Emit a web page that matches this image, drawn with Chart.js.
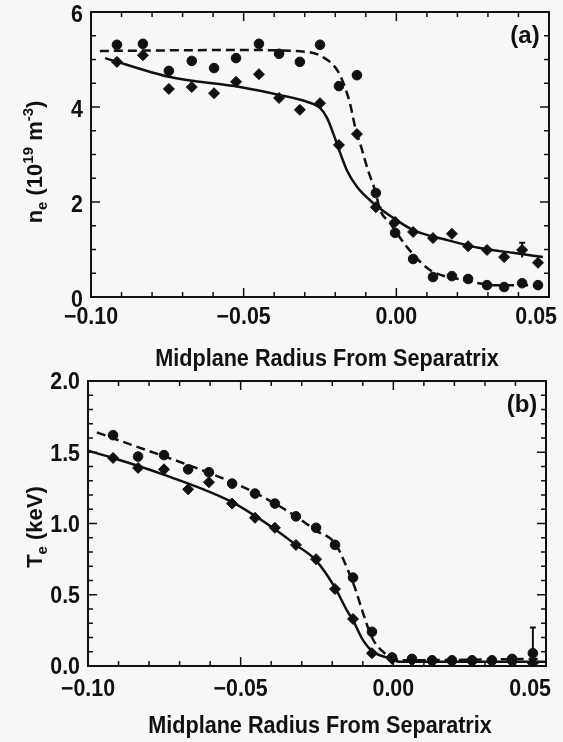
<!DOCTYPE html>
<html>
<head>
<meta charset="utf-8">
<script src="https://cdn.jsdelivr.net/npm/chart.js@4.4.1/dist/chart.umd.min.js"></script>
<style>
	html, body { margin: 0; padding: 0; background: #f7f7f7; }
	#wrap { position: relative; width: 563px; height: 742px; }
	#wrap canvas { position: absolute; left: 0; top: 0; }
</style>
</head>
<body>
<div id="wrap">
	<canvas id="chart_ne" width="563" height="742"></canvas>
	<canvas id="chart_te" width="563" height="742"></canvas>
</div>
<script>
// (a) density, measured points (dashed = circles, solid = diamonds)
var neX      = [-0.0915, -0.083, -0.0745, -0.067, -0.0597, -0.0525, -0.045, -0.0384, -0.0316, -0.025, -0.0188, -0.0129, -0.0067, -0.0004, 0.0055, 0.012, 0.0182, 0.0235, 0.0297, 0.0353, 0.0412, 0.0464];
var neDashed = [5.31, 5.33, 4.76, 4.97, 4.82, 5.03, 5.33, 5.12, 4.95, 5.31, 4.44, 4.67, 2.19, 1.35, 0.80, 0.42, 0.44, 0.38, 0.25, 0.21, 0.29, 0.25];
var neSolid  = [4.95, 5.09, 4.38, 4.42, 4.29, 4.53, 4.69, 4.19, 3.94, 4.08, 3.20, 3.43, 1.89, 1.58, 1.37, 1.24, 1.33, 1.07, 0.99, 0.84, 0.99, 0.72];

// (a) fitted curves
var neFitSolidX  = [-0.0954, -0.0741, -0.0512, -0.0381, -0.0293, -0.025, -0.0227, -0.0207, -0.0185, -0.0162, -0.0129, -0.0076, -0.0002, 0.0055, 0.0166, 0.0274, 0.0382, 0.048];
var neFitSolidY  = [5.03, 4.63, 4.42, 4.25, 4.11, 3.98, 3.77, 3.45, 3.05, 2.67, 2.32, 1.98, 1.63, 1.41, 1.20, 1.03, 0.93, 0.84];
var neFitDashedX = [-0.0971, -0.0512, -0.0293, -0.024, -0.0194, -0.0175, -0.0152, -0.0135, -0.0112, -0.0093, -0.007, -0.0053, -0.0021, 0.0035, 0.011, 0.0218, 0.033, 0.047];
var neFitDashedY = [5.18, 5.20, 5.16, 5.05, 4.78, 4.53, 4.08, 3.58, 3.09, 2.67, 2.25, 1.83, 1.56, 1.05, 0.57, 0.36, 0.25, 0.25];

// (a) error bars
var neErrX  = [0.0412];
var neErrLo = [0.83];
var neErrHi = [1.14];

// (b) temperature, measured points
var teX      = [-0.0918, -0.0836, -0.0751, -0.0672, -0.0604, -0.0528, -0.0453, -0.0388, -0.0319, -0.0253, -0.0191, -0.0132, -0.007, -0.0004, 0.0061, 0.0127, 0.0192, 0.0258, 0.0323, 0.0389, 0.0457];
var teDashed = [1.62, 1.47, 1.48, 1.38, 1.36, 1.28, 1.21, 1.14, 1.05, 0.97, 0.85, 0.62, 0.24, 0.06, 0.05, 0.04, 0.04, 0.04, 0.04, 0.05, 0.09];
var teSolid  = [1.46, 1.39, 1.38, 1.24, 1.29, 1.14, 1.04, 0.97, 0.85, 0.75, 0.54, 0.33, 0.09, 0.05, 0.04, 0.03, 0.03, 0.03, 0.03, 0.03, 0.02];

// (b) fitted curves
var teFitSolidX  = [-0.10, -0.0918, -0.0748, -0.0528, -0.0388, -0.0319, -0.0253, -0.0191, -0.0152, -0.0132, -0.0099, -0.0067, -0.0021, 0.0022, 0.05];
var teFitSolidY  = [1.51, 1.46, 1.34, 1.15, 0.96, 0.85, 0.74, 0.55, 0.39, 0.32, 0.18, 0.10, 0.06, 0.03, 0.03];
var teFitDashedX = [-0.0971, -0.0486, -0.0388, -0.0319, -0.0253, -0.0191, -0.0152, -0.0126, -0.0099, -0.007, -0.0034, 0.0022, 0.048];
var teFitDashedY = [1.64, 1.25, 1.14, 1.05, 0.95, 0.86, 0.69, 0.55, 0.37, 0.20, 0.10, 0.04, 0.05];

// (b) error bars
var teErrX  = [0.0457];
var teErrLo = [0.03];
var teErrHi = [0.27];

// ticks
var xTicks  = [-0.10, -0.05, 0.00, 0.05];
var xLabels = ['\u22120.10', '\u22120.05', '0.00', '0.05'];
var neYTicks  = [0, 2, 4, 6];
var neYLabels = ['0', '2', '4', '6'];
var teYTicks  = [0, 0.5, 1.0, 1.5, 2.0];
var teYLabels = ['0.0', '0.5', '1.0', '1.5', '2.0'];

var INK = '#111';
var FONT = '"Liberation Sans", Arial, Helvetica, sans-serif';

function pts(xs, ys) {
	return xs.map(function (x, i) { return { x: x, y: ys[i] }; });
}

function txt(ctx, s, x, y, size, align, squeeze) {
	ctx.save();
	ctx.font = 'bold ' + size + 'px ' + FONT;
	ctx.textAlign = align;
	ctx.textBaseline = 'middle';
	ctx.translate(x, y);
	ctx.scale(squeeze, 1);
	ctx.fillText(s, 0, 0);
	ctx.restore();
}

// frame, inward ticks, labels and titles
var framePlugin = {
	id: 'frame',
	afterDatasetsDraw: function (chart, args, o) {
		var ctx = chart.ctx, a = chart.chartArea;
		var sx = chart.scales.x, sy = chart.scales.y;
		ctx.save();
		ctx.strokeStyle = INK;
		ctx.fillStyle = INK;

		// error bars
		ctx.lineWidth = 2;
		for (var e = 0; e < o.errX.length; e++) {
			var ex = sx.getPixelForValue(o.errX[e]);
			var y1 = sy.getPixelForValue(o.errLo[e]), y2 = sy.getPixelForValue(o.errHi[e]);
			ctx.beginPath();
			ctx.moveTo(ex, y1); ctx.lineTo(ex, y2);
			ctx.moveTo(ex - 3, y2); ctx.lineTo(ex + 3, y2);
			ctx.stroke();
		}

		// box
		ctx.lineWidth = 2;
		ctx.strokeRect(a.left, a.top, a.right - a.left, a.bottom - a.top);

		// ticks
		ctx.lineWidth = 1.5;
		var isMajor = function (v, list) {
			for (var k = 0; k < list.length; k++) { if (Math.abs(v - list[k]) < 1e-9) return true; }
			return false;
		};
		var n = Math.round((sx.max - sx.min) / o.xMinor);
		for (var i = 0; i <= n; i++) {
			var v = sx.min + i * o.xMinor;
			var px = sx.getPixelForValue(v);
			var len = isMajor(v, xTicks) ? 9 : 5;
			ctx.beginPath();
			ctx.moveTo(px, a.bottom); ctx.lineTo(px, a.bottom - len);
			ctx.moveTo(px, a.top); ctx.lineTo(px, a.top + len);
			ctx.stroke();
		}
		var m = Math.round((sy.max - sy.min) / o.yMinor);
		for (var j = 0; j <= m; j++) {
			var w = sy.min + j * o.yMinor;
			var py = sy.getPixelForValue(w);
			var ln = isMajor(w, o.yTicks) ? 9 : 5;
			ctx.beginPath();
			ctx.moveTo(a.left, py); ctx.lineTo(a.left + ln, py);
			ctx.moveTo(a.right, py); ctx.lineTo(a.right - ln, py);
			ctx.stroke();
		}

		// tick labels
		ctx.font = 'bold 23px ' + FONT;
		xTicks.forEach(function (t, i) {
			var lx = sx.getPixelForValue(t);
			var half = ctx.measureText(xLabels[i]).width * 0.93 / 2;
			if (lx + half > o.xLabelMaxRight) lx = o.xLabelMaxRight - half;
			txt(ctx, xLabels[i], lx, a.bottom + o.xLabelGap, 23, 'center', 0.93);
		});
		o.yTicks.forEach(function (t, i) {
			txt(ctx, o.yLabels[i], a.left - 8, sy.getPixelForValue(t) + o.yLabelDy, 23, 'right', 0.93);
		});

		// x title
		ctx.save();
		ctx.font = 'bold 23px ' + FONT;
		ctx.textAlign = 'center';
		ctx.textBaseline = 'alphabetic';
		ctx.translate(o.xTitleX, o.xTitleY);
		ctx.scale(0.94, 1);
		ctx.fillText('Midplane Radius From Separatrix', 0, 0);
		ctx.restore();

		// y title with sub/superscripts
		ctx.save();
		ctx.translate(o.yTitleX, o.yTitleY);
		ctx.rotate(-Math.PI / 2);
		ctx.textAlign = 'left';
		ctx.textBaseline = 'alphabetic';
		var total = 0;
		o.yTitle.forEach(function (p) {
			ctx.font = 'bold ' + p[1] + 'px ' + FONT;
			total += ctx.measureText(p[0]).width;
		});
		var cx = -total / 2;
		o.yTitle.forEach(function (p) {
			ctx.font = 'bold ' + p[1] + 'px ' + FONT;
			ctx.fillText(p[0], cx, 8 + p[2]);
			cx += ctx.measureText(p[0]).width;
		});
		ctx.restore();

		// panel label
		txt(ctx, o.panel, o.panelX, o.panelY, 24, 'center', 1);
		ctx.restore();
	}
};

function lineSet(data, dashed) {
	return {
		data: data,
		borderColor: INK,
		borderWidth: 2.5,
		borderDash: dashed ? [9, 5] : [],
		pointRadius: 0,
		fill: false,
		cubicInterpolationMode: 'monotone'
	};
}

function markSet(data, style) {
	return {
		data: data,
		showLine: false,
		pointStyle: style,
		pointRadius: style === 'rectRot' ? 5.5 : 4.8,
		backgroundColor: INK,
		borderColor: INK,
		borderWidth: 1
	};
}

var profile = {
	startUp: function () {
		window.onload = function () {
			profile.chartDensity();
			profile.chartTemperature();
		};
	}, // end - startUp

	baseOptions: function (ymax, pad, frame) {
		return {
			responsive: false,
			animation: false,
			devicePixelRatio: 1,
			layout: { padding: pad },
			scales: {
				x: { type: 'linear', min: -0.10, max: 0.05, display: false },
				y: { type: 'linear', min: 0, max: ymax, display: false }
			},
			plugins: {
				legend: { display: false },
				tooltip: { enabled: false },
				frame: frame
			}
		};
	}, // end - baseOptions

	chartDensity: function () {
		new Chart('chart_ne', {
			type: 'line',
			data: {
				datasets: [
					lineSet(pts(neFitSolidX, neFitSolidY), false),
					lineSet(pts(neFitDashedX, neFitDashedY), true),
					markSet(pts(neX, neDashed), 'circle'),
					markSet(pts(neX, neSolid), 'rectRot')
				]
			},
			options: profile.baseOptions(6, { left: 91, right: 14, top: 12, bottom: 445 }, {
				xMinor: 0.01, yMinor: 0.5,
				yTicks: neYTicks, yLabels: neYLabels, yLabelDy: 4,
				xLabelGap: 21, xLabelMaxRight: 557,
				xTitleX: 327, xTitleY: 366,
				yTitleX: 34, yTitleY: 162,
				yTitle: [['n', 22, 0], ['e', 15, 5], [' (10', 22, 0], ['19', 15, -9], [' m', 22, 0], ['-3', 15, -9], [')', 22, 0]],
				panel: '(a)', panelX: 525, panelY: 36,
				errX: neErrX, errLo: neErrLo, errHi: neErrHi
			}),
			plugins: [framePlugin]
		});
	}, // end - chartDensity

	chartTemperature: function () {
		new Chart('chart_te', {
			type: 'line',
			data: {
				datasets: [
					lineSet(pts(teFitSolidX, teFitSolidY), false),
					lineSet(pts(teFitDashedX, teFitDashedY), true),
					markSet(pts(teX, teDashed), 'circle'),
					markSet(pts(teX, teSolid), 'rectRot')
				]
			},
			options: profile.baseOptions(2, { left: 88, right: 17, top: 381, bottom: 76 }, {
				xMinor: 0.01, yMinor: 0.1,
				yTicks: teYTicks, yLabels: teYLabels, yLabelDy: 2,
				xLabelGap: 24, xLabelMaxRight: 551,
				xTitleX: 320, xTitleY: 733,
				yTitleX: 34, yTitleY: 527,
				yTitle: [['T', 22, 0], ['e', 15, 5], [' (keV)', 22, 0]],
				panel: '(b)', panelX: 522, panelY: 405,
				errX: teErrX, errLo: teErrLo, errHi: teErrHi
			}),
			plugins: [framePlugin]
		});
	}, // end - chartTemperature
};

profile.startUp();
</script>
</body>
</html>
